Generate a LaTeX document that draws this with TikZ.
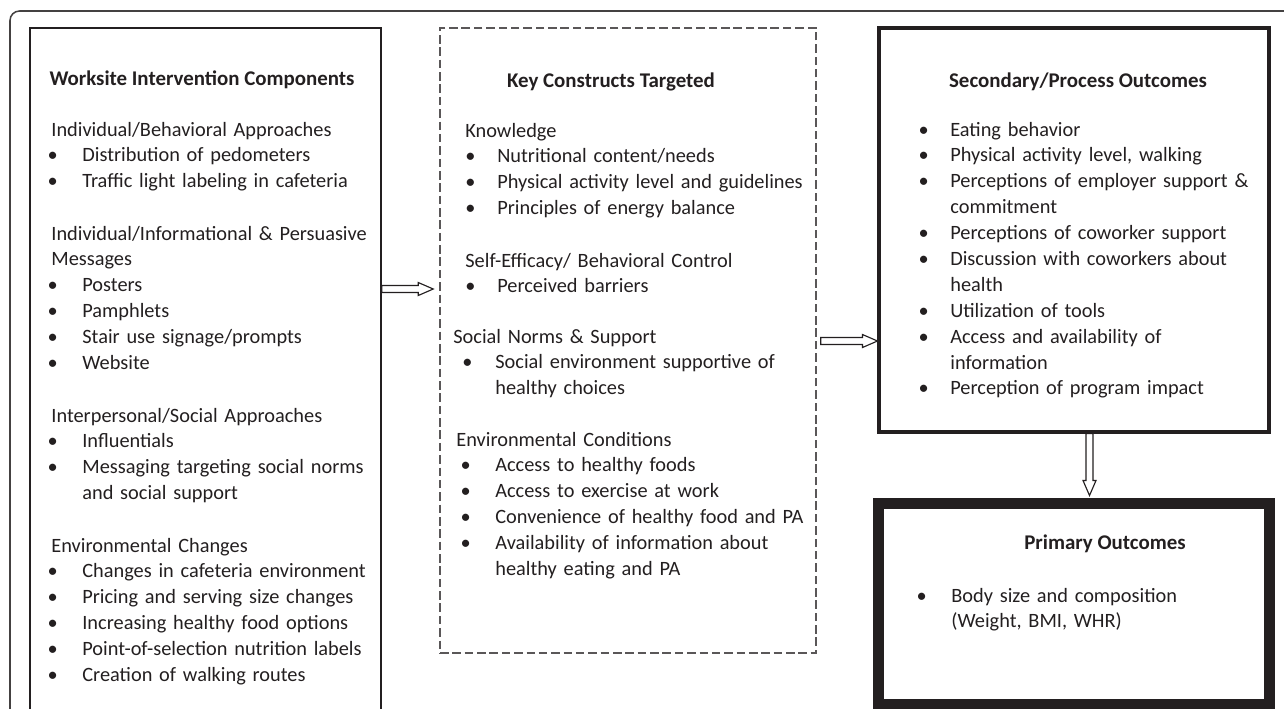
\documentclass[tikz,border=0pt]{standalone}
\usepackage{fontspec}
\setmainfont{Carlito}
\usetikzlibrary{calc,fit}
\definecolor{ink}{HTML}{231F20}
\newlength\bulx
\newlength\bulw
\newcommand{\bul}[1]{\hangindent=\bulw\hangafter=1\noindent\makebox[\bulw][l]{\hspace{\bulx}\textbullet}#1\par}

\begin{document}
\begin{tikzpicture}[x=0.526pt,y=-0.526pt,
    every node/.style={inner sep=0pt,text=ink,font=\fontsize{10.7}{13.62}\selectfont},
    box/.style={draw=ink,line width=0.8pt},
    ttl/.style={anchor=base,font=\fontsize{11}{13.62}\selectfont\bfseries},
    grp/.style 2 args={anchor=base west,text width=190pt,
      execute at begin node={\setlength{\bulx}{#1}\setlength{\bulw}{#2}}},
    harrow/.style={draw=ink,line width=0.6pt,fill=white,line join=miter}]
  \useasboundingbox (0,0) rectangle (1284,708);

  % outer frame
  \draw[draw=ink!85,line width=0.8pt,rounded corners=5pt] (1300,11) -- (10,11) -- (10,730);

  % boxes
  \node[box,fit={(30,28) (381,760)}] (b1) {};
  \node[box,draw=ink!75,dash pattern=on 4.5pt off 2pt,fit={(440,28) (816,653)}] (b2) {};
  \node[box,line width=1.6pt,fit={(879,28) (1269,432)}] (b3) {};
  \node[box,line width=5.8pt,fit={(878.5,503) (1269.5,704.5)}] (b4) {};

  % box 1
  \node[ttl] (t1) at (202,85) {Worksite Intervention Components};
  \node[grp={-2pt}{16.3pt}] (g11) at (51,136) {Individual/Behavioral Approaches\par
    \bul{Distribution of pedometers}
    \bul{Traffic light labeling in cafeteria}};
  \node[grp={-2pt}{16.3pt}] (g12) at (51,240) {Individual/Informational \& Persuasive\newline Messages\par
    \bul{Posters}
    \bul{Pamphlets}
    \bul{Stair use signage/prompts}
    \bul{Website}};
  \node[grp={-2pt}{16.3pt}] (g13) at (51,422) {Interpersonal/Social Approaches\par
    \bul{Influentials}
    \bul{Messaging targeting social norms\newline and social support}};
  \node[grp={-2pt}{16.3pt}] (g14) at (51,552) {Environmental Changes\par
    \bul{Changes in cafeteria environment}
    \bul{Pricing and serving size changes}
    \bul{Increasing healthy food options}
    \bul{Point-of-selection nutrition labels}
    \bul{Creation of walking routes}};

  % box 2
  \node[ttl] (t2) at (611,87) {Key Constructs Targeted};
  \node[grp={0pt}{16.8pt}] (g21) at (465,137) {Knowledge\par
    \bul{Nutritional content/needs}
    \bul{Physical activity level and guidelines}
    \bul{Principles of energy balance}};
  \node[grp={0pt}{16.8pt}] (g22) at (465,267) {Self-Efficacy/ Behavioral Control\par
    \bul{Perceived barriers}};
  \node[grp={4.7pt}{22.1pt}] (g23) at (453,343) {Social Norms \& Support\par
    \bul{Social environment supportive of\newline healthy choices}};
  \node[grp={2.2pt}{20.5pt}] (g24) at (456,446) {Environmental Conditions\par
    \bul{Access to healthy foods}
    \bul{Access to exercise at work}
    \bul{Convenience of healthy food and PA}
    \bul{Availability of information about\newline healthy eating and PA}};

  % box 3
  \node[ttl] (t3) at (1078,87) {Secondary/Process Outcomes};
  \node[grp={-2pt}{14.7pt}] (g31) at (922,136) {\bul{Eating behavior}
    \bul{Physical activity level, walking}
    \bul{Perceptions of employer support \&\newline commitment}
    \bul{Perceptions of coworker support}
    \bul{Discussion with coworkers about\newline health}
    \bul{Utilization of tools}
    \bul{Access and availability of\newline information}
    \bul{Perception of program impact}};

  % box 4
  \node[ttl] (t4) at (1105,549) {Primary Outcomes};
  \node[grp={-2pt}{16.3pt}] (g41) at (920,602) {\bul{Body size and composition\newline (Weight, BMI, WHR)}};

  % arrows
  \coordinate (r1) at (0,289);
  \coordinate (r2) at (0,341);
  \coordinate (r3) at (1089.5,0);
  \coordinate (s1) at (b1.east |- r1);
  \coordinate (e1) at ($(b2.west |- r1)+(-6,0)$);
  \coordinate (s2) at ($(b2.east |- r2)+(4,0)$);
  \coordinate (e2) at (b3.west |- r2);
  \coordinate (s3) at (r3 |- b3.south);
  \coordinate (e3) at ($(r3 |- b4.north)+(0,-2)$);
  \draw[harrow] ($(s1)+(0,-3.5)$) -- ($(e1)+(-15,-3.5)$) -- ++(0,-3) -- (e1) -- ++(-15,6.5) -- ++(0,-3) -- ($(s1)+(0,3.5)$) -- cycle;
  \draw[harrow] ($(s2)+(0,-3.5)$) -- ($(e2)+(-15,-3.5)$) -- ++(0,-3) -- (e2) -- ++(-15,6.5) -- ++(0,-3) -- ($(s2)+(0,3.5)$) -- cycle;
  \draw[harrow] ($(s3)+(-3.5,0)$) -- ($(e3)+(-3.5,-15)$) -- ++(-3,0) -- (e3) -- ++(6.5,-15) -- ++(-3,0) -- ($(s3)+(3.5,0)$) -- cycle;
\end{tikzpicture}
\end{document}
